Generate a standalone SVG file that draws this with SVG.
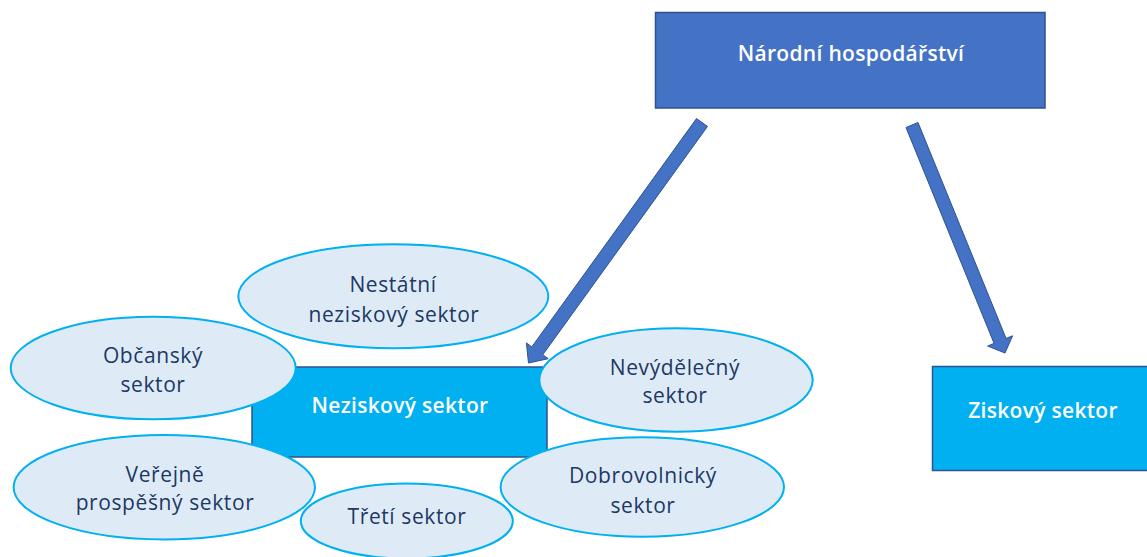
<svg xmlns="http://www.w3.org/2000/svg" width="1147" height="557" viewBox="0 0 1147 557">
<style>
.box{stroke:#2F528F;stroke-width:1.5}
.dark{fill:#4472C4}
.cyan{fill:#00B0F0}
.ell{fill:#DEEBF7;stroke:#00B0F0;stroke-width:2}
.arrow{fill:#4472C4;stroke:#2F528F;stroke-width:1}
text{font-family:"Open Sans","Noto Sans","DejaVu Sans",sans-serif;font-size:21px;text-anchor:middle;letter-spacing:0.6px}
.w{fill:#FFFFFF;font-weight:600;letter-spacing:0.3px}
.d{fill:#203864}
</style>
<rect width="1147" height="557" fill="#FFFFFF"/>
<g id="connectors">
<polygon class="arrow" points="707.5,126.4 542.8,354.7 548.2,358.7 528.5,363 526.4,342.9 531.8,346.9 696.5,118.6"/>
<polygon class="arrow" points="918,122.5 1006.1,338.4 1012.6,335.8 1005,353 987.6,346 994.1,343.4 906,127.5"/>
</g>
<g id="narodni">
<rect class="box dark" x="655.5" y="12.5" width="389.5" height="95.5"/>
<text class="w" x="851" y="61">Národní hospodářství</text>
</g>
<g id="ziskovy">
<rect class="box cyan" x="932.5" y="366.5" width="220" height="104"/>
<text class="w" x="1043" y="418">Ziskový sektor</text>
</g>
<g id="neziskovy">
<rect class="box cyan" x="252" y="367" width="295" height="90"/>
<text class="w" x="400" y="413">Neziskový sektor</text>
</g>
<g id="nestatni">
<ellipse class="ell" cx="393.3" cy="296.3" rx="155" ry="52"/>
<text class="d" x="393" y="292">Nestátní</text>
<text class="d" x="394" y="322">neziskový sektor</text>
</g>
<g id="obcansky">
<ellipse class="ell" cx="153.2" cy="368" rx="142.5" ry="51.3"/>
<text class="d" x="153" y="363">Občanský</text>
<text class="d" x="153" y="392">sektor</text>
</g>
<g id="verejne">
<ellipse class="ell" cx="164.3" cy="487.2" rx="150.7" ry="52.2"/>
<text class="d" x="165" y="482">Veřejně</text>
<text class="d" x="165" y="510">prospěšný sektor</text>
</g>
<g id="nevydelecny">
<ellipse class="ell" cx="676" cy="380" rx="136.7" ry="51.7"/>
<text class="d" x="675" y="375">Nevýdělečný</text>
<text class="d" x="675" y="403">sektor</text>
</g>
<g id="treti">
<ellipse class="ell" cx="406.8" cy="521" rx="106" ry="37.5"/>
<text class="d" x="407" y="524">Třetí sektor</text>
</g>
<g id="dobrovolnicky">
<ellipse class="ell" cx="642.3" cy="487" rx="141.7" ry="49.7"/>
<text class="d" x="643" y="483">Dobrovolnický</text>
<text class="d" x="643" y="513">sektor</text>
</g>
</svg>
